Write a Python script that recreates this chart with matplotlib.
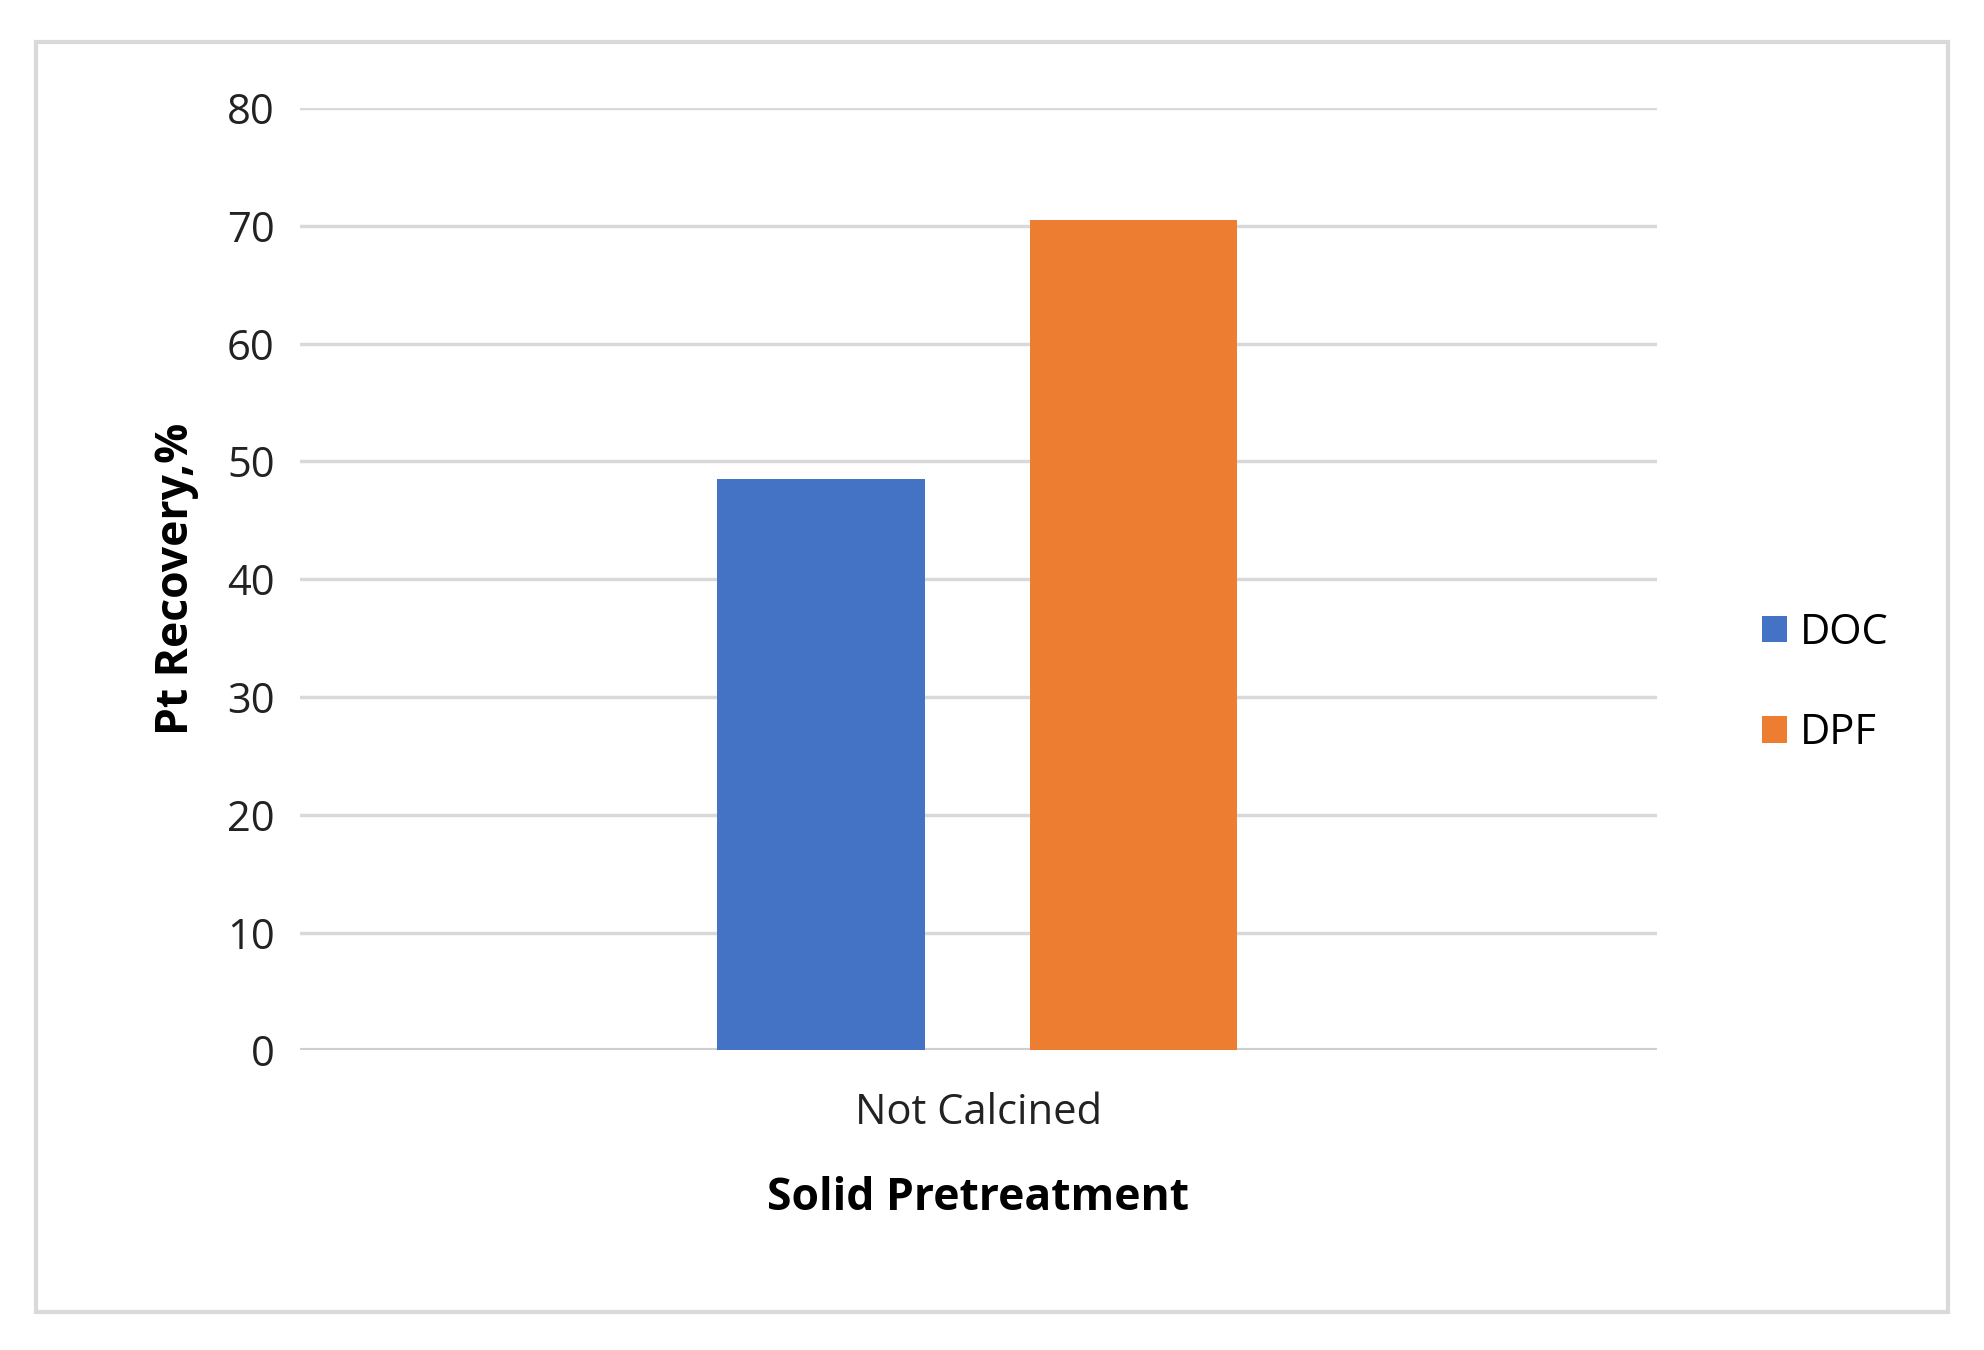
import matplotlib.pyplot as plt
from matplotlib.patches import Rectangle

categories = ['Not Calcined']
series = ['DOC', 'DPF']
values = [48.5, 70.5]
colors = ['#4472C4', '#ED7D31']
yticks = [0, 10, 20, 30, 40, 50, 60, 70, 80]

plt.rcParams['font.family'] = ['Open Sans', 'DejaVu Sans']

fig = plt.figure(figsize=(19.84, 13.5), dpi=100)
fig.patches.append(Rectangle((0.018, 0.028), 0.964, 0.941, transform=fig.transFigure,
                             fill=False, edgecolor='#d9d9d9', linewidth=3))
ax = fig.add_axes([0.151, 0.222, 0.684, 0.698])

offsets = [-0.1156, 0.1146]
width = 0.153
for name, val, col, off in zip(series, values, colors, offsets):
    ax.bar(off, val, width=width, color=col, label=name, zorder=3)

ax.set_xlim(-0.5, 0.5)
ax.set_ylim(0, 80)
ax.set_yticks(yticks)
ax.set_xticks([0])
ax.set_xticklabels(categories)
ax.grid(axis='y', color='#d9d9d9', linewidth=2.5, zorder=0)
ax.axhline(0, color='#cfcfcf', linewidth=3, zorder=2)
for s in ax.spines.values():
    s.set_visible(False)
ax.tick_params(length=0, labelsize=30, colors='#222222', pad=18)
ax.tick_params(axis='x', pad=30)
ax.set_xlabel('Solid Pretreatment', fontsize=32, fontweight='bold', labelpad=30)
ax.set_ylabel('Pt Recovery,%', fontsize=32, fontweight='bold', labelpad=20)

leg = ax.legend(loc='center left', bbox_to_anchor=(1.05, 0.39), frameon=False,
                fontsize=30, handlelength=0.6, handleheight=0.6, handletextpad=0.3,
                labelspacing=1.4)

fig.savefig('out.png', dpi=100)
